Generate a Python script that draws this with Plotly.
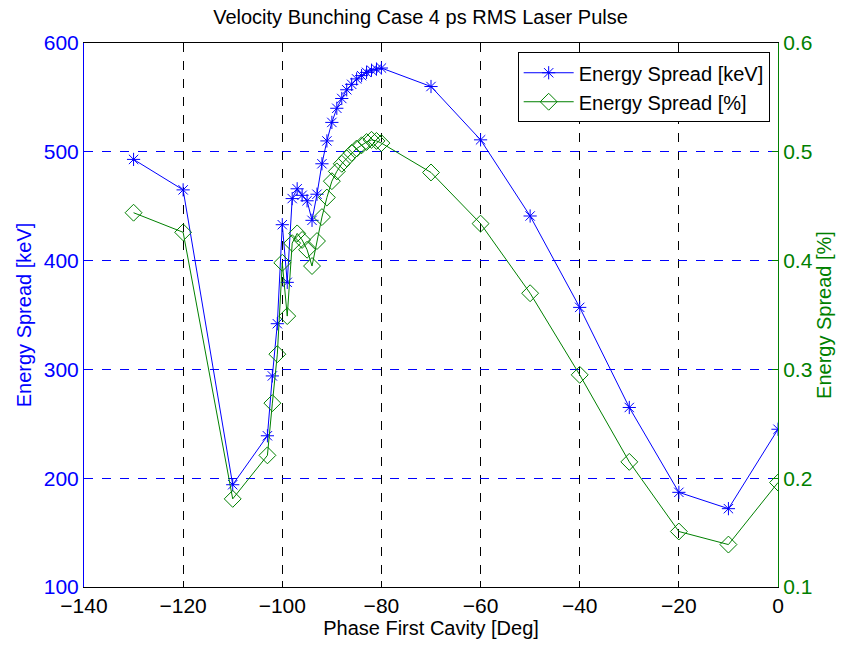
import plotly.graph_objects as go

phase = [-130, -120, -110, -103, -102, -101, -100, -99, -98, -97, -96, -95, -94, -93,
         -92, -91, -90, -89, -88, -87, -86, -85, -84, -83, -82, -81, -80,
         -70, -60, -50, -40, -30, -20, -10, 0]
spread_kev = [493, 465, 194, 239, 294, 342, 433, 380, 457, 466, 460, 455, 437, 461,
              489, 510, 527, 540, 549, 557, 562, 567, 570, 573, 575, 576, 577,
              560, 511, 441, 357, 265, 187, 172, 245]
spread_pct = [0.444, 0.426, 0.181, 0.221, 0.269, 0.314, 0.398, 0.349, 0.416, 0.425, 0.419, 0.410, 0.395, 0.418,
              0.440, 0.458, 0.473, 0.482, 0.489, 0.494, 0.499, 0.503, 0.506, 0.509, 0.511, 0.510, 0.508,
              0.481, 0.434, 0.370, 0.295, 0.215, 0.151, 0.139, 0.196]

BLUE = "#0000ff"
GREEN = "#008000"
FONT = "Liberation Sans, Arial, sans-serif"

fig = go.Figure()
fig.add_trace(go.Scatter(
    x=phase, y=spread_kev, name="Energy Spread [keV]", mode="lines+markers",
    line=dict(color=BLUE, width=1),
    marker=dict(symbol="asterisk-open", size=11, line=dict(color=BLUE, width=1)),
    yaxis="y"))
fig.add_trace(go.Scatter(
    x=phase, y=spread_pct, name="Energy Spread [%]", mode="lines+markers",
    line=dict(color=GREEN, width=1),
    marker=dict(symbol="diamond-open", size=13, color=GREEN, line=dict(color=GREEN, width=1)),
    yaxis="y2"))

fig.update_layout(
    width=841, height=647,
    margin=dict(l=84, r=61, t=43, b=59),
    paper_bgcolor="white", plot_bgcolor="white",
    font=dict(family=FONT, size=20, color="black"),
    title=dict(text="Velocity Bunching Case 4 ps RMS Laser Pulse", x=0.5, xanchor="center",
               y=1 - 17 / 647, yanchor="middle", font=dict(size=20, family=FONT)),
    xaxis=dict(range=[-140, 0], tickvals=[-140, -120, -100, -80, -60, -40, -20, 0],
               ticks="inside", ticklen=6, tickcolor="black",
               showline=True, linecolor="black", linewidth=1, mirror=True,
               showgrid=True, gridcolor="black", griddash="dash", gridwidth=1,
               zeroline=False,
               title=dict(text="Phase First Cavity [Deg]", standoff=4, font=dict(size=20)),
               tickfont=dict(size=21)),
    yaxis=dict(range=[100, 600], tickvals=[100, 200, 300, 400, 500, 600],
               ticks="inside", ticklen=6, tickcolor=BLUE,
               showline=True, linecolor=BLUE, linewidth=1,
               showgrid=True, gridcolor=BLUE, griddash="dash", gridwidth=1,
               zeroline=False, tickfont=dict(color=BLUE, size=21),
               title=dict(text="Energy Spread [keV]", font=dict(color=BLUE, size=20), standoff=6)),
    yaxis2=dict(range=[0.1, 0.6], tickvals=[0.1, 0.2, 0.3, 0.4, 0.5, 0.6],
                ticktext=["0.1", "0.2", "0.3", "0.4", "0.5", "0.6"],
                overlaying="y", side="right",
                ticks="inside", ticklen=6, tickcolor=GREEN,
                showline=True, linecolor=GREEN, linewidth=1,
                showgrid=False, zeroline=False, tickfont=dict(color=GREEN, size=21),
                title=dict(text="Energy Spread [%]", font=dict(color=GREEN, size=20), standoff=2)),
    legend=dict(x=0.988, y=0.983, xanchor="right", yanchor="top",
                bgcolor="white", bordercolor="black", borderwidth=1,
                font=dict(size=20), tracegroupgap=0, itemwidth=50),
    showlegend=True,
)

fig.write_html("out.html")
